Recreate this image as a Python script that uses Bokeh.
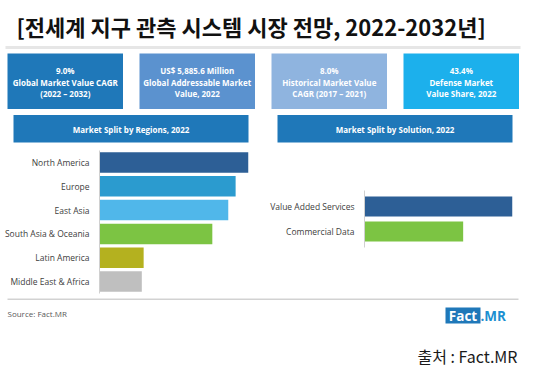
from bokeh.plotting import figure
from bokeh.models import Range1d, FactorRange
from bokeh.layouts import column, row
from bokeh.embed import file_html
from bokeh.resources import INLINE
from bokeh.core.properties import value

# ---------------- data ----------------
title_text = "[전세계 지구 관측 시스템 시장 전망, 2022-2032년]"
kpi_lines_1 = ["9.0%", "US$ 5,885.6 Million", "8.0%", "43.4%"]
kpi_lines_2 = ["Global Market Value CAGR", "Global Addressable Market", "Historical Market Value", "Defense Market"]
kpi_lines_3 = ["(2022 – 2032)", "Value, 2022", "CAGR (2017 – 2021)", "Value Share, 2022"]
kpi_colors = ["#1f78b9", "#5b92cf", "#8fb4df", "#1cb0ec"]

region_title = "Market Split by Regions, 2022"
regions = ["North America", "Europe", "East Asia", "South Asia & Oceania", "Latin America", "Middle East & Africa"]
region_share = [24.3, 22.2, 21.0, 18.4, 7.2, 6.9]
region_colors = ["#2d5f96", "#2b9bcf", "#50b7ea", "#7cc443", "#b4b11f", "#bfbfbf"]

solution_title = "Market Split by Solution, 2022"
solutions = ["Value Added Services", "Commercial Data"]
solution_share = [60.0, 40.0]
solution_colors = ["#2d5f96", "#7cc443"]

source_text = "Source: Fact.MR"
credit_text = "출처 : Fact.MR"

FONT = value("Open Sans")
KFONT = value("Noto Sans CJK KR")
HEAD = "#1f78b9"


def canvas(w, h, x0, x1, y0, y1):
    p = figure(width=w, height=h, x_range=Range1d(x0, x1), y_range=Range1d(y0, y1),
               output_backend="svg", toolbar_location=None, min_border=0, frame_align=False)
    p.axis.visible = False
    p.grid.visible = False
    p.outline_line_color = None
    p.background_fill_color = "white"
    return p


# ---------------- top canvas (y 0..145) ----------------
top = canvas(535, 145, 0, 535, 145, 0)
top.text(x=[16], y=[25], text=[title_text], text_font=KFONT, text_font_size="22px",
         text_font_style="bold", text_color="#111111", text_align="left", text_baseline="middle")
top.segment(x0=[5], y0=[47], x1=[520], y1=[47], line_color="#e6e6e6", line_width=3)

box_w, box_gap, box_x0 = 115.5, 16.5, 7
lefts = [box_x0 + i * (box_w + box_gap) for i in range(len(kpi_colors))]
rights = [l + box_w for l in lefts]
cx = [(l + r) / 2 for l, r in zip(lefts, rights)]
top.quad(left=lefts, right=rights, top=[53] * 4, bottom=[108.5] * 4, fill_color=kpi_colors, line_color=None)
for lines, yy in ((kpi_lines_1, 70), (kpi_lines_2, 81.5), (kpi_lines_3, 93)):
    top.text(x=cx, y=[yy] * 4, text=lines, text_font=FONT, text_font_size="8px", text_font_style="bold",
             text_color="white", text_align="center", text_baseline="middle")

# header bars
top.quad(left=[13, 277], right=[248, 512], top=[114.5, 114.5], bottom=[142, 142], fill_color=HEAD, line_color=None)
top.text(x=[130.5, 394.5], y=[128.5, 128.5], text=[region_title, solution_title], text_font=FONT,
         text_font_size="8px", text_font_style="bold", text_color="white", text_align="center",
         text_baseline="middle")


def barfig(w, cats, vals, cols, mbl, mbr, mbt, mbb, hgt, pad):
    p = figure(width=w, height=153, y_range=FactorRange(factors=cats[::-1], range_padding=pad),
               x_range=Range1d(0, max(vals)), output_backend="svg", toolbar_location=None,
               min_border_left=mbl, min_border_right=mbr, min_border_top=mbt, min_border_bottom=mbb,
               frame_align=False)
    p.hbar(y=cats, left=0, right=vals, height=hgt, fill_color=cols, line_color=None)
    p.xaxis.visible = False
    p.grid.visible = False
    p.outline_line_color = None
    ax = p.yaxis[0]
    ax.axis_line_color = "#d0d0d0"
    ax.major_tick_line_color = None
    ax.minor_tick_line_color = None
    ax.major_label_standoff = 4
    ax.major_label_text_font = "Open Sans"
    ax.major_label_text_font_size = "8.5px"
    ax.major_label_text_color = "#404040"
    return p


left = barfig(265, regions, region_share, region_colors, 99, 17, 5, 5, 0.86, 0)
right = barfig(270, solutions, solution_share, solution_colors, 99, 23, 45, 51, 0.8, 0.14)

# ---------------- bottom canvas (y 298..375) ----------------
bot = canvas(535, 77, 0, 535, 375, 298)
bot.segment(x0=[7], y0=[298.5], x1=[518], y1=[298.5], line_color="#a6a6a6", line_width=1)
bot.text(x=[7], y=[313], text=[source_text], text_font=FONT, text_font_size="8px",
         text_color="#595959", text_align="left", text_baseline="middle")
bot.quad(left=[445], right=[480], top=[307], bottom=[323], fill_color=HEAD, line_color=None)
bot.text(x=[462.5], y=[315.5], text=["Fact"], text_font=FONT, text_font_size="13.5px", text_font_style="bold",
         text_color="white", text_align="center", text_baseline="middle")
bot.text(x=[480], y=[315.5], text=[".MR"], text_font=FONT, text_font_size="13.5px", text_font_style="bold",
         text_color="#1c8fd1", text_align="left", text_baseline="middle")
bot.text(x=[517], y=[355.5], text=[credit_text], text_font=KFONT, text_font_size="16px",
         text_color="#1a1a1a", text_align="right", text_baseline="middle")

layout = column(top, row(left, right, spacing=0), bot, spacing=0)
open("out.html", "w").write(file_html(layout, INLINE))
